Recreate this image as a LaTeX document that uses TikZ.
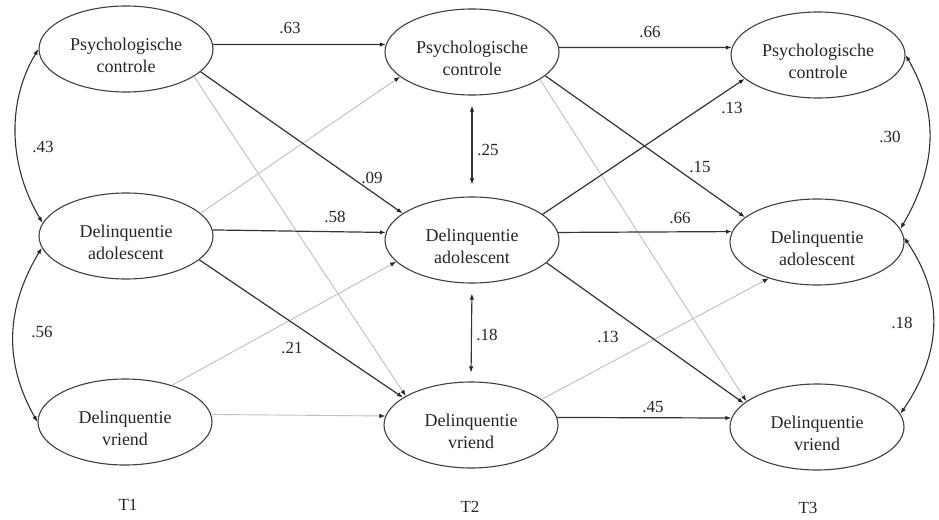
\documentclass[tikz,border=0pt]{standalone}
\usepackage{fontspec}
\setmainfont{Liberation Serif}
\usetikzlibrary{shapes.geometric,arrows.meta}
\begin{document}
\begin{tikzpicture}[x=1pt,y=-1pt,
  tip/.tip={Latex[length=6pt,width=4.5pt,color=black!85]},
  var/.style={ellipse, draw=black!75, line width=1.1pt, minimum width=174pt, minimum height=86pt, inner sep=0pt, label={[vtxt]center:#1}},
  vtxt/.style={align=center, font=\fontsize{18}{22}\selectfont, text=black!85, yshift=-6pt},
  coef/.style={font=\fontsize{17}{20}\selectfont, inner sep=0pt, text=black!85},
  tlab/.style={font=\fontsize{17}{20}\selectfont, inner sep=0pt, text=black!85},
  dk/.style={draw=black!80, line width=1.2pt, -tip},
  lt/.style={draw=black!25, line width=0.9pt, -tip},
  dbl/.style={draw=black!80, line width=1.1pt, tip-tip},
]
\fill[white] (0,0) rectangle (939,519);
\useasboundingbox (0,0) rectangle (939,519);

% ellipses
\node[var=Psychologische\\controle] (PC1) at (126,49) {};
\node[var=Delinquentie\\adolescent] (DA1) at (126,236) {};
\node[var=Delinquentie\\vriend] (DV1) at (125,422) {};
\node[var=Psychologische\\controle] (PC2) at (472,52) {};
\node[var=Delinquentie\\adolescent] (DA2) at (472,240) {};
\node[var=Delinquentie\\vriend] (DV2) at (471,425) {};
\node[var=Psychologische\\controle] (PC3) at (818,55) {};
\node[var=Delinquentie\\adolescent] (DA3) at (817,242) {};
\node[var=Delinquentie\\vriend] (DV3) at (817,427) {};

% time labels
\node[tlab] (T1) at (128,505) {T1};
\node[tlab] (T2) at (470,507) {T2};
\node[tlab] (T3) at (808,508) {T3};

% light paths
\draw[lt] (PC1.338) -- (DV2.156);
\draw[lt] (DA1.17) -- (PC2.199);
\draw[lt] (DV1.38) -- (DA2.196);
\draw[lt] (DV1.5) -- (DV2.174);
\draw[lt] (PC2.338) -- (DV3.160);
\draw[lt] (DV2.20) -- (DA3.217);

% dark paths
\draw[dk] (PC1.3) -- (PC2.175);
\draw[dk] (PC1.343) -- (DA2.159);
\draw[dk] (DA1.4) -- (DA2.175);
\draw[dk] (DA1.342) -- (DV2.158);
\draw[dk] (PC2.3) -- (PC3.175);
\draw[dk] (PC2.342) -- (DA3.161);
\draw[dk] (DA2.20) -- (PC3.198);
\draw[dk] (DA2.5) -- (DA3.173);
\draw[dk] (DA2.343) -- (DV3.162);
\draw[dk] (DV2.5) -- (DV3.174);

% residual correlations within T2
\draw[dbl, shorten <=10pt, shorten >=12pt] (PC2.south) -- (DA2.north);
\draw[dbl, shorten <=10pt, shorten >=9pt] (DA2.south) -- (DV2.north);

% correlations at T1 and T3
\draw[dbl] (PC1.180) .. controls +(-33,55) and +(-33,-55) .. (DA1.171);
\draw[dbl] (DA1.188) .. controls +(-36,60) and +(-34,-60) .. (DV1.180);
\draw[dbl] (PC3.0) .. controls +(35,60) and +(35,-60) .. (DA3.9);
\draw[dbl] (DA3.3) .. controls +(41,60) and +(41,-60) .. (DV3.9);

% coefficients
\node[coef] (c63) at (290,28) {.63};
\node[coef] (c66a) at (650,32) {.66};
\node[coef] (c43) at (43,147) {.43};
\node[coef] (c09) at (372,178) {.09};
\node[coef] (c58) at (335,217) {.58};
\node[coef] (c25) at (488,150) {.25};
\node[coef] (c13a) at (732,108) {.13};
\node[coef] (c15) at (700,167) {.15};
\node[coef] (c30) at (890,137) {.30};
\node[coef] (c66b) at (680,218) {.66};
\node[coef] (c56) at (42,332) {.56};
\node[coef] (c21) at (292,348) {.21};
\node[coef] (c18a) at (487,335) {.18};
\node[coef] (c13b) at (608,337) {.13};
\node[coef] (c18b) at (902,323) {.18};
\node[coef] (c45) at (653,407) {.45};
\end{tikzpicture}
\end{document}
